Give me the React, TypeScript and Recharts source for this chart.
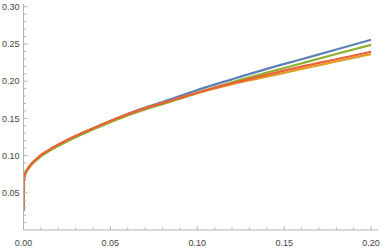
import { LineChart, Line, XAxis, YAxis } from 'recharts'

// x 采样点，四条曲线的 y 值都按图读出
const xs = [0, 0.0001, 0.0003, 0.001, 0.0025, 0.0045, 0.0075, 0.01, 0.015, 0.02, 0.025, 0.03, 0.04, 0.05, 0.06, 0.07, 0.08, 0.09, 0.1, 0.12, 0.14, 0.16, 0.18, 0.2]
const blue = [0.026, 0.054, 0.067, 0.076, 0.0825, 0.0887, 0.0955, 0.1005, 0.108, 0.1145, 0.1205, 0.1262, 0.1365, 0.1465, 0.1562, 0.1645, 0.172, 0.180, 0.188, 0.2025, 0.2165, 0.2295, 0.2425, 0.2556]
const orange = [0.026, 0.054, 0.067, 0.076, 0.0825, 0.0887, 0.0955, 0.1005, 0.108, 0.1145, 0.1205, 0.1262, 0.1365, 0.1465, 0.1555, 0.1635, 0.1705, 0.1772, 0.184, 0.196, 0.206, 0.2165, 0.2265, 0.2364]
const green = [0.0255, 0.053, 0.0655, 0.0745, 0.081, 0.0872, 0.094, 0.099, 0.1065, 0.113, 0.119, 0.1247, 0.135, 0.145, 0.154, 0.162, 0.169, 0.1765, 0.1842, 0.1985, 0.2115, 0.224, 0.2365, 0.2489]
const red = [0.026, 0.054, 0.067, 0.076, 0.0825, 0.0887, 0.0955, 0.1005, 0.108, 0.1145, 0.1205, 0.1262, 0.1365, 0.1465, 0.1555, 0.1635, 0.1705, 0.1775, 0.1845, 0.197, 0.2085, 0.2195, 0.2295, 0.2395]

const xMajor = [0, 0.05, 0.1, 0.15, 0.2]
const xMinor = [0.01, 0.02, 0.03, 0.04, 0.06, 0.07, 0.08, 0.09, 0.11, 0.12, 0.13, 0.14, 0.16, 0.17, 0.18, 0.19]
const yMajor = [0.05, 0.1, 0.15, 0.2, 0.25, 0.3]
const yMinor = [0.01, 0.02, 0.03, 0.04, 0.06, 0.07, 0.08, 0.09, 0.11, 0.12, 0.13, 0.14, 0.16, 0.17, 0.18, 0.19, 0.21, 0.22, 0.23, 0.24, 0.26, 0.27, 0.28, 0.29]

const data = xs.map((x, i) => ({ x, blue: blue[i], orange: orange[i], green: green[i], red: red[i] }))

const AXIS = '#b3b3b3'
const LABEL = '#444'
const FONT = '"Liberation Sans", Arial, sans-serif'

const isMajor = (v: number, majors: number[]) => majors.some(m => Math.abs(m - v) < 1e-9)

// 刻度朝图内画，主刻度长、次刻度短
function XTick(props: any) {
  const { x, y, payload } = props
  const major = isMajor(payload.value, xMajor)
  return (
    <g>
      <line x1={x} x2={x} y1={y} y2={y - (major ? 4 : 2.5)} stroke={AXIS} strokeWidth={1} />
      {major && (
        <text x={x} y={y + 15.5} textAnchor="middle" fill={LABEL} fontSize={9} fontFamily={FONT}>
          {payload.value.toFixed(2)}
        </text>
      )}
    </g>
  )
}

function YTick(props: any) {
  const { x, y, payload } = props
  const major = isMajor(payload.value, yMajor)
  return (
    <g>
      <line x1={x} x2={x + (major ? 4 : 2.5)} y1={y} y2={y} stroke={AXIS} strokeWidth={1} />
      {major && (
        <text x={x - 4} y={y + 3.2} textAnchor="end" fill={LABEL} fontSize={9} fontFamily={FONT}>
          {payload.value.toFixed(2)}
        </text>
      )}
    </g>
  )
}

export default function App() {
  return (
    <div style={{ position: 'absolute', left: 0, top: 0, background: '#fff' }}>
      <LineChart width={382} height={248} data={data} margin={{ top: 3.8, right: 4, bottom: 0, left: 0 }}>
        <XAxis
          dataKey="x"
          type="number"
          domain={[0, 0.204]}
          ticks={[...xMajor, ...xMinor]}
          interval={0}
          tickSize={0}
          tickMargin={0}
          tick={<XTick />}
          height={18}
          stroke={AXIS}
          allowDataOverflow
        />
        <YAxis
          type="number"
          domain={[0, 0.304]}
          ticks={[...yMajor, ...yMinor]}
          interval={0}
          tickSize={0}
          tickMargin={0}
          tick={<YTick />}
          width={23.5}
          stroke={AXIS}
          allowDataOverflow
        />
        <Line type="monotone" dataKey="blue" stroke="#5e81b5" strokeWidth={2.2} dot={false} isAnimationActive={false} />
        <Line type="monotone" dataKey="orange" stroke="#e19c24" strokeWidth={2.2} dot={false} isAnimationActive={false} />
        <Line type="monotone" dataKey="green" stroke="#8fb032" strokeWidth={2.2} dot={false} isAnimationActive={false} />
        <Line type="monotone" dataKey="red" stroke="#eb6235" strokeWidth={2.2} dot={false} isAnimationActive={false} />
      </LineChart>
    </div>
  )
}
